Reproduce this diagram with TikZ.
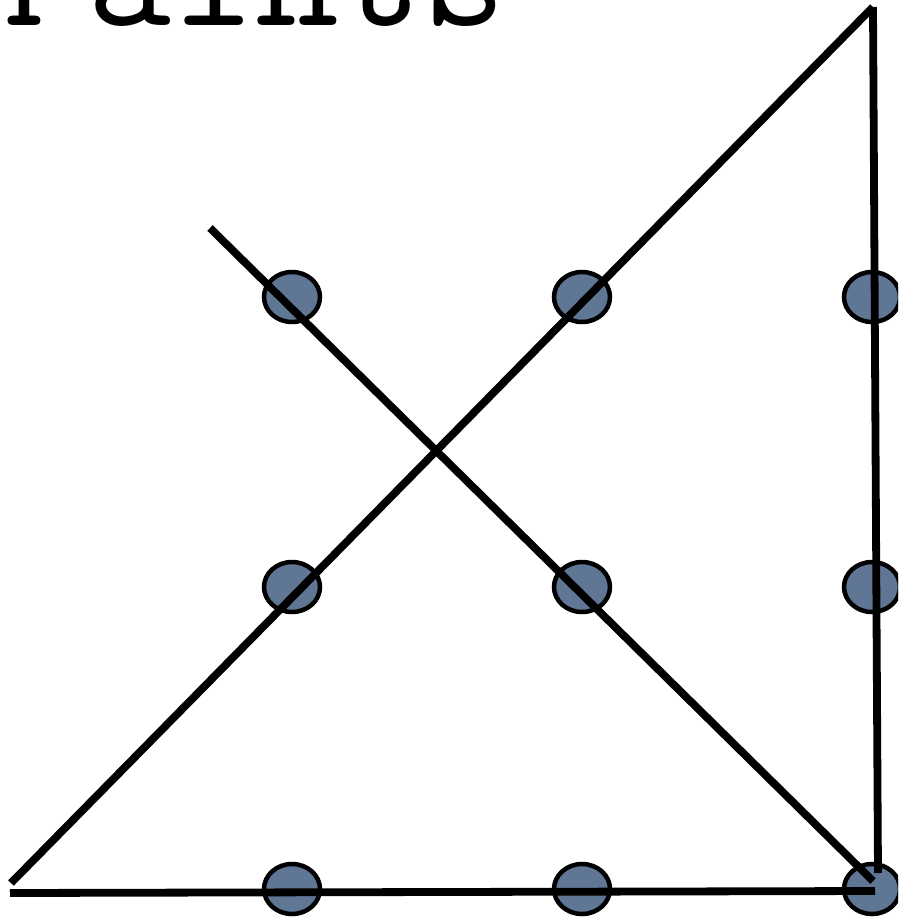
\documentclass[tikz,border=0pt]{standalone}
\usetikzlibrary{shapes.geometric}
\definecolor{dotfill}{RGB}{95,118,148}
\begin{document}
\begin{tikzpicture}[x=1pt,y=-1pt,
  dot/.style={ellipse, draw=black, line width=4.5pt, fill=dotfill, minimum width=56pt, minimum height=50pt, inner sep=0pt},
  stroke/.style={line width=7.8pt, draw=black}]
\useasboundingbox (0,0) rectangle (898,919);
\clip (0,0) rectangle (898,919);
\node[anchor=base west, inner sep=0pt, font=\ttfamily\fontsize{163}{163}\selectfont] (title) at (3,25) {Paints};
\foreach \i/\x in {1/292,2/582,3/872}{
  \foreach \j/\y in {1/297,2/587,3/889}{
    \node[dot] (d\i\j) at (\x,\y) {};
  }
}
\coordinate (bl) at (11,883);
\coordinate (tr) at (873,7);
\coordinate (vb) at (878,873);
\coordinate (ds) at (210,228);
\coordinate (de) at (873,881);
\coordinate (hs) at (10,893);
\coordinate (he) at (875,891);
\draw[stroke] (bl) -- (tr);
\draw[stroke] (tr) -- (vb);
\draw[stroke] (ds) -- (de);
\draw[stroke] (hs) -- (he);
\end{tikzpicture}
\end{document}
